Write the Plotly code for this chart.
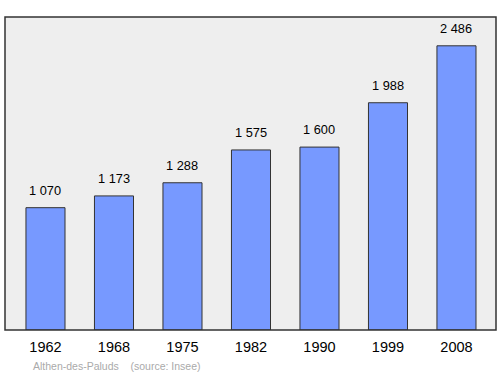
import plotly.graph_objects as go

years = ["1962", "1968", "1975", "1982", "1990", "1999", "2008"]
population = [1070, 1173, 1288, 1575, 1600, 1988, 2486]
value_labels = ["1 070", "1 173", "1 288", "1 575", "1 600", "1 988", "2 486"]
footer = "Althen-des-Paluds    (source: Insee)"

xs = list(range(len(years)))

fig = go.Figure()
fig.add_trace(go.Bar(
    x=xs, y=population, width=0.57,
    marker=dict(color="#7799ff", line=dict(color="#333333", width=1)),
    hoverinfo="skip",
))

for x, v, t in zip(xs, population, value_labels):
    fig.add_annotation(x=x, y=v, text=t, showarrow=False, yanchor="bottom",
                       yshift=8, font=dict(family="Liberation Sans, Arial", size=12.8, color="#000"))

fig.add_annotation(xref="paper", yref="paper", x=0.053, y=-0.091, xanchor="left", yanchor="top",
                   text=footer, showarrow=False,
                   font=dict(family="Liberation Sans, Arial", size=10.5, color="#aaaaaa"))

fig.add_shape(type="rect", xref="paper", yref="paper", x0=0, y0=0, x1=1, y1=1,
              line=dict(color="#333333", width=1.5), layer="above")

fig.update_layout(
    width=500, height=374,
    margin=dict(l=5, r=4, t=17, b=44),
    paper_bgcolor="white", plot_bgcolor="#eeeeee",
    showlegend=False,
    xaxis=dict(range=[-0.591, 6.577], tickmode="array", tickvals=xs, ticktext=years,
               showgrid=False, zeroline=False, ticks="", showline=False,
               ticklabelstandoff=6,
               tickfont=dict(family="Liberation Sans, Arial", size=14.5, color="#000")),
    yaxis=dict(range=[0, 2738], visible=False, showgrid=False, zeroline=False),
)

fig.write_html("out.html")
